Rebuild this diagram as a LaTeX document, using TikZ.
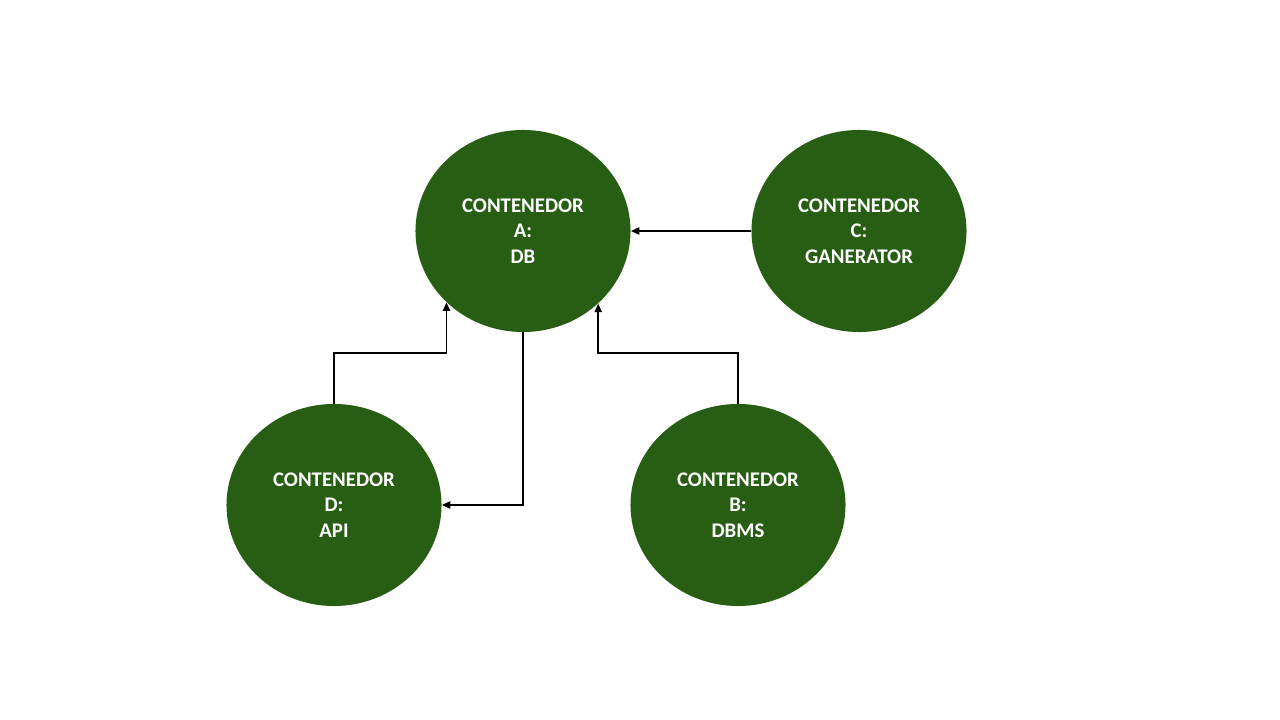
\documentclass[tikz,border=0pt]{standalone}
\usepackage{fontspec}
\setmainfont{Carlito}
\usetikzlibrary{shapes.geometric, arrows.meta}
\definecolor{contgreen}{RGB}{40,94,19}

\begin{document}
\begin{tikzpicture}[x=0.025cm, y=-0.025cm, every node/.style={font=\bfseries\fontsize{14.8}{18.2}\selectfont}, >={Triangle[length=6pt,width=5pt]}]
  % Define styles
  \tikzstyle{container} = [ellipse, fill=contgreen, text=white, minimum width=5.375cm, minimum height=5.05cm, inner sep=0pt, align=center]
  \tikzstyle{link} = [->, line width=1.3pt]

  \useasboundingbox (0,0) rectangle (1280,720);

  % Nodes
  \node[container] (db) at (523,231) {CONTENEDOR\\A:\\DB};
  \node[container] (gen) at (859,231) {CONTENEDOR\\C:\\GANERATOR};
  \node[container] (api) at (334,505) {CONTENEDOR\\D:\\API};
  \node[container] (dbms) at (738,505) {CONTENEDOR\\B:\\DBMS};

  % Arrows
  \draw[link] (gen.west) -- (db.east);
  \draw[link] (api.north) -- ++(0,-51) -| (db.223.5);
  \draw[link] (dbms.north) -- ++(0,-51) -| (db.316.5);
  \draw[link] (db.south) |- (api.east);
\end{tikzpicture}
\end{document}
